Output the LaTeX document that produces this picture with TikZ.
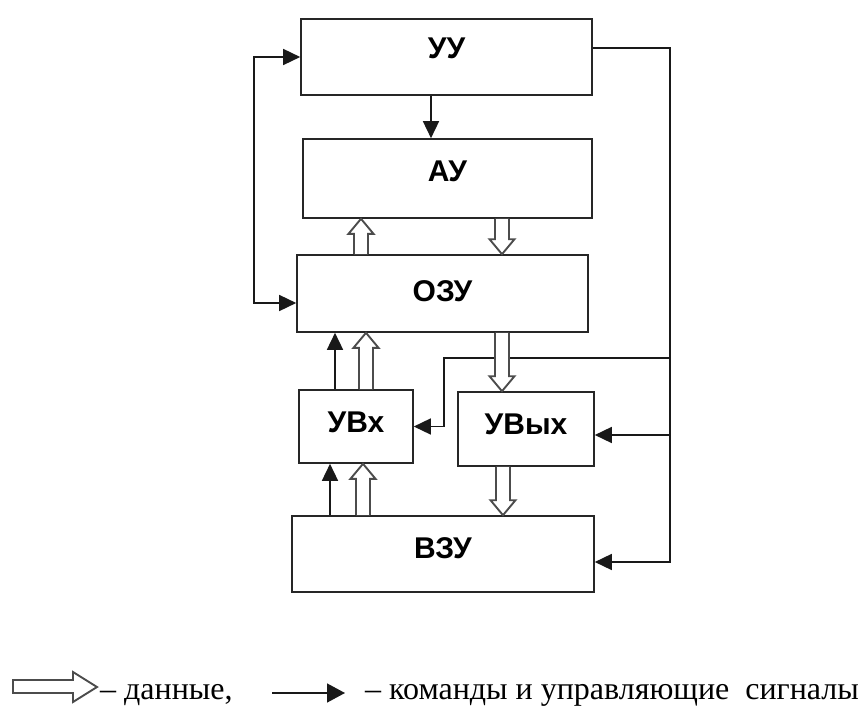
\documentclass[tikz,border=0pt]{standalone}
\usepackage{fontspec}
\setmainfont{Liberation Serif}
\newfontfamily\boxfont{Liberation Sans}
\usetikzlibrary{arrows.meta,calc}

\newcommand\dataV[3]{%
  \filldraw[data] let \p1=(#2 -| #1), \p2=(#3 -| #1), \n1={ifthenelse(\y2>\y1,1,-1)} in
    (\x1-7pt,\y1) -- (\x1-7pt,\y2-\n1*15pt) -- (\x1-12.5pt,\y2-\n1*15pt) -- (\x1,\y2)
    -- (\x1+12.5pt,\y2-\n1*15pt) -- (\x1+7pt,\y2-\n1*15pt) -- (\x1+7pt,\y1);}

\begin{document}
\begin{tikzpicture}[x=1pt,y=-1pt,
  blk/.style={draw=black!85, line width=1.6pt, inner sep=0pt,
    font=\boxfont\bfseries\fontsize{30}{30}\selectfont, text height=22pt},
  cmd/.style={draw=black!90, line width=1.5pt, -{Triangle[length=17pt,width=16pt]}},
  data/.style={draw=black!70, line width=1.9pt, fill=white, line join=miter},
  legtext/.style={anchor=base west, inner sep=0pt, font=\fontsize{32}{32}\selectfont},
]
\useasboundingbox (0,0) rectangle (863,709);

% boxes
\node[blk, minimum width=291pt, minimum height=76pt, text depth=18pt] (UU) at (446.5,57) {УУ};
\node[blk, minimum width=289pt, minimum height=79pt, text depth=17pt] (AU) at (447.5,178.5) {АУ};
\node[blk, minimum width=291pt, minimum height=77pt, text depth=7pt] (OZU) at (442.5,293.5) {ОЗУ};
\node[blk, minimum width=114pt, minimum height=73pt, text depth=11pt] (UVx) at (356,426.5) {УВх};
\node[blk, minimum width=136pt, minimum height=74pt, text depth=12pt] (UVy) at (526,429) {УВых};
\node[blk, minimum width=302pt, minimum height=76pt, text depth=14pt] (VZU) at (443,554) {ВЗУ};

% column coordinates
\coordinate (k1) at (431,0);
\coordinate (k2) at (330,0);
\coordinate (k3) at (335,0);
\coordinate (c1) at (361,0);
\coordinate (c2) at (502,0);
\coordinate (c3) at (366,0);
\coordinate (c4) at (502,0);
\coordinate (c5) at (363,0);
\coordinate (c6) at (503,0);
\coordinate (L) at (254,0);
\coordinate (R) at (670,0);
\coordinate (J) at (444,358);

% command arrows
\draw[cmd] (UU.south -| k1) -- (AU.north -| k1);
\draw[cmd] (VZU.north -| k2) -- (UVx.south -| k2);
\draw[cmd] (UVx.north -| k3) -- (OZU.south -| k3);

\coordinate (ozuin) at ($(OZU.west)+(0,9.5)$);
\draw[cmd, {Triangle[length=17pt,width=16pt]}-{Triangle[length=17pt,width=16pt]}]
  (UU.west) -- (UU.west -| L) -- (ozuin -| L) -- (ozuin);

\coordinate (uuout) at ($(UU.east)+(0,-9)$);
\coordinate (vzuin) at ($(VZU.east)+(0,8)$);
\coordinate (uvyin) at ($(UVy.east)+(0,6)$);
\draw[cmd] (uuout) -- (uuout -| R) -- (vzuin -| R) -- (vzuin);
\draw[cmd] (uvyin -| R) -- (uvyin);
\draw[cmd] (J -| R) -- (J) -- (J |- UVx.east) -- (UVx.east);

% data arrows
\dataV{c1}{OZU.north}{AU.south}
\dataV{c2}{AU.south}{OZU.north}
\dataV{c3}{UVx.north}{OZU.south}
\dataV{c4}{OZU.south}{UVy.north}
\dataV{c5}{VZU.north}{UVx.south}
\dataV{c6}{UVy.south}{VZU.north}

% legend
\filldraw[data] (13,680) -- (73,680) -- (73,672) -- (97,687) -- (73,702) -- (73,693) -- (13,693) -- cycle;
\node[legtext] (t1) at (100,699) {– данные,};
\coordinate (la) at (272,693);
\coordinate (lb) at (345,693);
\draw[cmd, -{Triangle[length=18pt,width=19pt]}] (la) -- (lb);
\node[legtext] (t2) at (365,699) {– команды и управляющие\ \ сигналы};
\end{tikzpicture}
\end{document}
